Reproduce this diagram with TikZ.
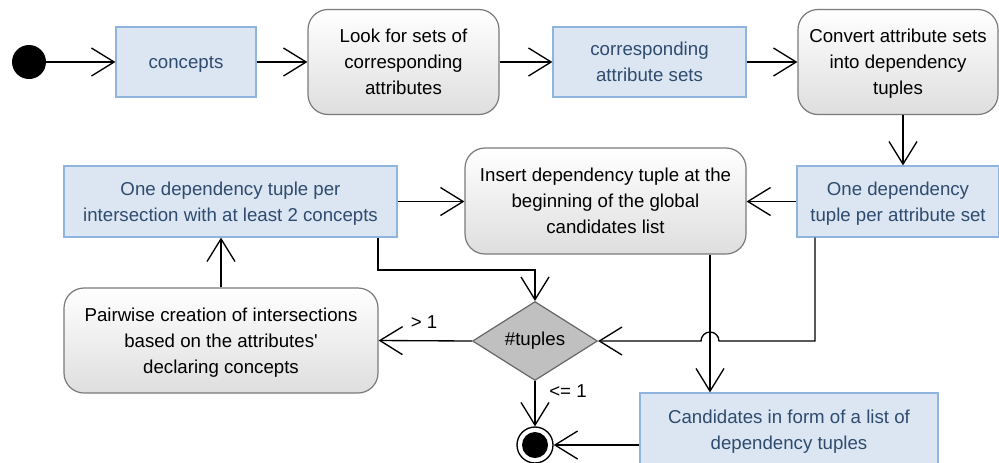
\documentclass[tikz,border=0pt]{standalone}
\usepackage{fontspec}
\setmainfont{Liberation Sans}
\usetikzlibrary{arrows.meta,shapes.geometric,calc}
\definecolor{objfill}{HTML}{DBE6F2}
\definecolor{objline}{HTML}{8FB4DE}
\definecolor{objtext}{HTML}{2F4B6E}
\definecolor{actline}{HTML}{7A7A7A}
\definecolor{actbottom}{HTML}{DEDEDE}
\definecolor{decfill}{HTML}{C0C0C0}
\definecolor{decline}{HTML}{666666}
% centred lines of box text; the strut balances the space above the capitals
% with the space below the last baseline
\newcommand{\boxlines}[1]{\begin{tabular}{@{}c@{}}\rule{0pt}{15.85pt}#1\end{tabular}}
\begin{document}
\begin{tikzpicture}[x=0.75pt,y=-0.75pt,
  every node/.style={font=\fontsize{14}{19.5}\selectfont, inner sep=0pt},
  objbox/.style 2 args={rectangle, draw=objline, fill=objfill, text=objtext,
    line width=0.9pt, minimum width=#1*0.75pt, minimum height=#2*0.75pt},
  actbox/.style 2 args={rectangle, rounded corners=15pt, draw=actline,
    top color=white, bottom color=actbottom, line width=0.9pt,
    minimum width=#1*0.75pt, minimum height=#2*0.75pt},
  decision/.style={diamond, draw=decline, fill=decfill, line width=0.9pt,
    minimum width=93.75pt, minimum height=59.25pt},
  startdot/.style={circle, fill=black, minimum size=25.5pt},
  enddot/.style={circle, draw=black, fill=white, line width=1pt, minimum size=27pt},
  flow/.style={-{Straight Barb[length=17pt,width=21pt]}, line width=1pt},
  guard/.style={font=\fontsize{14}{16}\selectfont}]
\useasboundingbox (0,0) rectangle (999,462);
\clip (0,0) rectangle (999,462);

% activity flow, top row
\node[startdot] (start) at (29,62) {};
\node[objbox={140}{70}] (concepts) at (186,62) {\boxlines{concepts}};
\node[actbox={191}{105}] (look) at (403.5,62) {\boxlines{Look for sets of\\corresponding\\attributes}};
\node[objbox={193}{70}] (attrsets) at (649.5,62) {\boxlines{corresponding\\attribute sets}};
\node[actbox={200}{105}] (convert) at (898,62) {\boxlines{Convert attribute sets\\into dependency\\tuples}};

% middle row
\node[objbox={202}{71}] (pertuple) at (898,201.5) {\boxlines{One dependency\\tuple per attribute set}};
\node[actbox={281}{106}] (insert) at (605.5,201) {\boxlines{Insert dependency tuple at the\\beginning of the global\\candidates list}};
\node[objbox={333}{71}] (perinter) at (230.5,201.5) {\boxlines{One dependency tuple per\\intersection with at least 2 concepts}};

% bottom row
\node[actbox={314}{105}] (pairwise) at (221,340.5) {\boxlines{Pairwise creation of intersections\\based on the attributes\textquotesingle\\declaring concepts}};
\node[decision] (dec) at (535,341) {\#tuples};
\node[objbox={298}{74}] (cand) at (789,430) {\boxlines{Candidates in form of a list of\\dependency tuples}};
\node[enddot] (final) at (535,445) {};
\fill (final.center) circle (9.75pt);

% helper coordinates for routed connectors
\coordinate (cx) at (903,0);
\coordinate (j1) at (378,270);
\coordinate (j2) at (815,0);
\coordinate (hop) at (710,0);

% connectors
\draw[flow] (start) -- (concepts);
\draw[flow] (concepts) -- (look);
\draw[flow] (look) -- (attrsets);
\draw[flow] (attrsets) -- (convert);
\draw[flow] (convert.south -| cx) -- (pertuple.north -| cx);
\draw[flow] (pertuple.west) -- (pertuple.west -| insert.east);
\draw[flow] (perinter.east) -- (perinter.east -| insert.west);
\draw[flow] (perinter.south -| j1) -- (j1) -| (dec.north);
\draw[flow] (pertuple.south -| j2) |- ($(dec.east -| hop)+(9,0)$)
  arc[start angle=0, end angle=180, radius=6.75pt] -- (dec.east);
\draw[flow] (insert.south -| hop) -- (cand.north -| hop);
\draw[flow] (dec.west) -- (pairwise.east);
\draw[flow] (pairwise.north) -- (perinter.south -| pairwise.north);
\draw[flow] (dec.south) -- (final.north);
\draw[flow] (cand.west |- final) -- (final.east);

% guard labels
\node[guard] (gt) at (424,322) {> 1};
\node[guard] (le) at (568,391) {<= 1};
\end{tikzpicture}
\end{document}
